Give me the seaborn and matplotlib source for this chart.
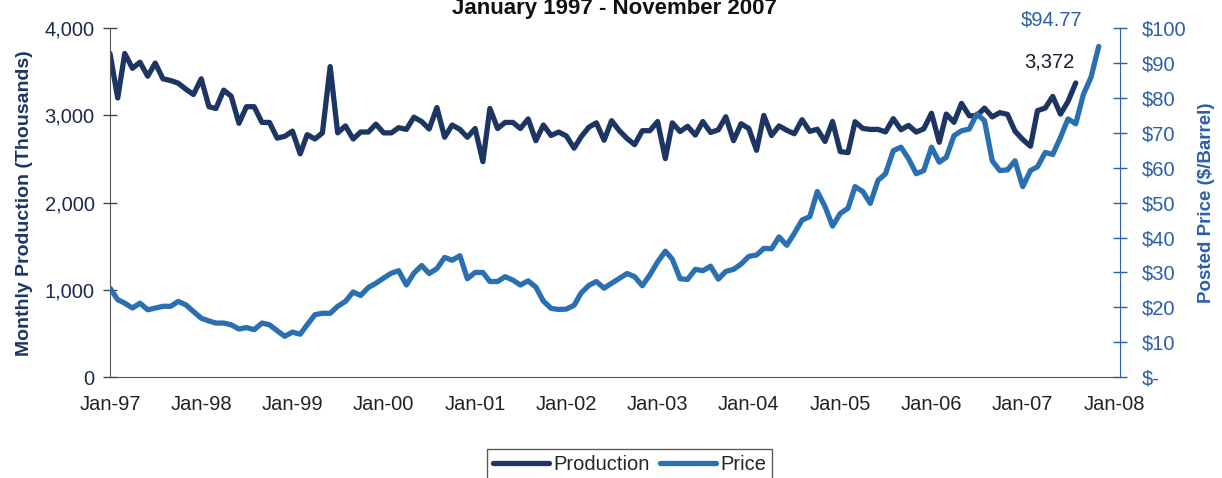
import pandas as pd
import matplotlib.pyplot as plt
import matplotlib.dates as mdates
import matplotlib.ticker as mticker
import seaborn as sns

# monthly production (thousands), Jan-97 .. Aug-07
prod_1997 = [3710, 3200, 3710, 3540, 3610, 3450, 3600, 3420, 3400, 3370, 3300, 3240]
prod_1998 = [3420, 3100, 3080, 3290, 3220, 2910, 3100, 3100, 2920, 2920, 2740, 2760]
prod_1999 = [2820, 2560, 2780, 2730, 2800, 3560, 2800, 2880, 2730, 2810, 2810, 2900]
prod_2000 = [2800, 2800, 2860, 2840, 2980, 2930, 2845, 3090, 2750, 2890, 2840, 2750]
prod_2001 = [2850, 2470, 3080, 2850, 2920, 2920, 2850, 2960, 2710, 2890, 2770, 2810]
prod_2002 = [2765, 2625, 2755, 2865, 2915, 2715, 2940, 2825, 2735, 2665, 2825, 2825]
prod_2003 = [2930, 2505, 2915, 2815, 2875, 2775, 2930, 2805, 2835, 2985, 2710, 2905]
prod_2004 = [2850, 2600, 3000, 2770, 2880, 2830, 2790, 2951, 2817, 2842, 2702, 2931]
prod_2005 = [2585, 2574, 2928, 2851, 2840, 2840, 2811, 2963, 2836, 2886, 2809, 2847]
prod_2006 = [3025, 2693, 3016, 2921, 3138, 2996, 2996, 3084, 2983, 3032, 3012, 2820]
prod_2007 = [2724, 2647, 3055, 3085, 3218, 3015, 3160, 3372]

# posted price ($/barrel), Jan-97 .. Nov-07
price_1997 = [25.5, 22.2, 21.2, 19.8, 21.2, 19.3, 19.8, 20.3, 20.3, 21.7, 20.7, 18.8]
price_1998 = [16.9, 16.1, 15.5, 15.5, 15.0, 13.8, 14.2, 13.6, 15.5, 15.0, 13.3, 11.7]
price_1999 = [12.9, 12.3, 15.0, 17.9, 18.3, 18.3, 20.3, 21.7, 24.4, 23.4, 25.7, 26.9]
price_2000 = [28.4, 29.8, 30.5, 26.4, 29.8, 32.0, 29.7, 31.1, 34.3, 33.5, 34.8, 28.2]
price_2001 = [30.0, 30.0, 27.4, 27.4, 28.8, 27.8, 26.4, 27.6, 25.8, 21.8, 19.7, 19.4]
price_2002 = [19.5, 20.6, 24.1, 26.3, 27.4, 25.5, 26.9, 28.3, 29.7, 28.8, 26.2, 29.3]
price_2003 = [33.0, 36.1, 33.8, 28.2, 28.0, 30.9, 30.5, 31.8, 28.1, 30.3, 30.9, 32.4]
price_2004 = [34.6, 35.0, 36.9, 36.8, 40.2, 37.8, 41.2, 45.0, 46.0, 53.2, 48.9, 43.3]
price_2005 = [46.9, 48.4, 54.6, 53.2, 49.8, 56.4, 58.3, 64.9, 65.9, 62.6, 58.3, 59.2]
price_2006 = [65.9, 61.6, 63.0, 69.2, 70.6, 71.1, 75.4, 73.5, 62.0, 59.2, 59.4, 62.0]
price_2007 = [54.6, 59.2, 60.3, 64.4, 63.8, 68.7, 74.0, 72.6, 81.1, 85.9, 94.77]

production = (prod_1997 + prod_1998 + prod_1999 + prod_2000 + prod_2001 + prod_2002
              + prod_2003 + prod_2004 + prod_2005 + prod_2006 + prod_2007)
price = (price_1997 + price_1998 + price_1999 + price_2000 + price_2001 + price_2002
         + price_2003 + price_2004 + price_2005 + price_2006 + price_2007)

prod_df = pd.DataFrame({"date": pd.date_range("1997-01-01", periods=len(production), freq="MS"),
                        "value": production})
price_df = pd.DataFrame({"date": pd.date_range("1997-01-01", periods=len(price), freq="MS"),
                         "value": price})

navy = "#1d3563"
blue = "#2a70b0"
axis_blue = "#2c5fa8"

sns.set_style("white")
plt.rcParams["font.family"] = ["Liberation Sans", "DejaVu Sans"]

fig = plt.figure(figsize=(12.22, 4.78), dpi=100)
ax = fig.add_axes([0.090, 0.211, 0.8265, 0.730])
ax2 = ax.twinx()

sns.lineplot(data=prod_df, x="date", y="value", ax=ax, color=navy, linewidth=3.8,
             label="Production", legend=False)
sns.lineplot(data=price_df, x="date", y="value", ax=ax2, color=blue, linewidth=3.8,
             label="Price", legend=False)

ax.set_xlim(pd.Timestamp("1997-01-01"), pd.Timestamp("2008-01-25"))
ax.set_ylim(0, 4000)
ax2.set_ylim(0, 100)
ax.set_yticks([0, 1000, 2000, 3000, 4000])
ax2.set_yticks(range(0, 101, 10))

ax.xaxis.set_major_locator(mdates.YearLocator())
ax.xaxis.set_major_formatter(mdates.DateFormatter("%b-%y"))
ax.yaxis.set_major_formatter(mticker.FuncFormatter(lambda v, p: f"{v:,.0f}"))
ax2.yaxis.set_major_formatter(mticker.FuncFormatter(lambda v, p: "$-" if v == 0 else f"${v:.0f}"))

ax.set_xlabel("")
ax.set_ylabel("Monthly Production (Thousands)", fontsize=14, fontweight="bold", color=navy, labelpad=8)
ax2.set_ylabel("Posted Price ($/Barrel)", fontsize=13.5, fontweight="bold", color=axis_blue, labelpad=8)

ax.spines["top"].set_visible(False)
ax2.spines["top"].set_visible(False)
ax.spines["right"].set_visible(False)
ax.spines["left"].set_color("#555555")
ax.spines["bottom"].set_color("#555555")
ax2.spines["left"].set_visible(False)
ax2.spines["bottom"].set_visible(False)
ax2.spines["right"].set_color(axis_blue)

ax.tick_params(axis="x", direction="inout", length=10, width=1, color="#444444",
               labelsize=14.5, labelcolor="#222222", pad=8)
ax.tick_params(axis="y", direction="inout", length=10, width=1, color="#444444",
               labelsize=14.5, labelcolor="#1c2a4e", pad=6)
ax2.tick_params(axis="y", direction="inout", length=10, width=1, color=axis_blue,
                labelsize=14.5, labelcolor=axis_blue, pad=11)

# end-point labels
ax2.annotate("$94.77", xy=(price_df["date"].iloc[-1], price[-1]), xytext=(-34, 19),
             textcoords="offset points", ha="center", va="center", fontsize=14.5, color=axis_blue)
ax.annotate(f"{production[-1]:,}", xy=(prod_df["date"].iloc[-1], production[-1]), xytext=(-19, 15),
            textcoords="offset points", ha="center", va="center", fontsize=14.5, color="#1a1a2e")

fig.text(0.503, 1 - 14 / 478, "January 1997 - November 2007", ha="center", va="baseline",
         fontsize=16, fontweight="bold", color="#111111")

h1, l1 = ax.get_legend_handles_labels()
h2, l2 = ax2.get_legend_handles_labels()
fig.legend(h1 + h2, l1 + l2, loc="upper center", bbox_to_anchor=(0.515, 0.082), ncol=2,
           frameon=True, fancybox=False, edgecolor="#333333", fontsize=14.5,
           handlelength=2.8, handletextpad=0.2, columnspacing=0.5, borderpad=0.3)

fig.savefig("out.png", dpi=100)
